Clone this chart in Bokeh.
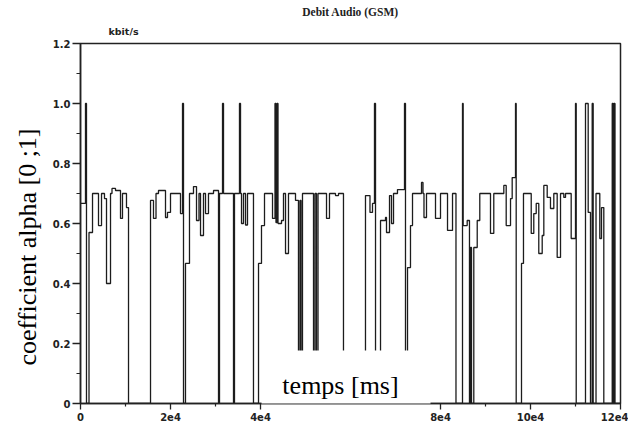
import math
from bokeh.plotting import figure
from bokeh.models import FixedTicker, Label, BoxAnnotation, PrintfTickFormatter, Title
from bokeh.embed import file_html
from bokeh.resources import INLINE

# time [ms] at which each step starts, and the value held from there
t_ms = [0, 1110, 1330, 1890, 2670, 4000, 4670, 5330, 5780, 6670, 7000, 7780, 8890, 9330,
        10220, 10670, 15560, 16220, 16780, 17330, 18890, 19330, 20000, 22220, 22670, 22890,
        23330, 24220, 25110, 25780, 26330, 26670, 27330, 27780, 28440, 29560, 30670, 30890,
        31560, 31780, 34000, 34220, 35330, 35560, 35780, 36220, 36670, 37110, 38440, 39560,
        40220, 40890, 42670, 43220, 43440, 43670, 43890, 44670, 45110, 45560, 46220, 47780,
        48440, 48780, 49000, 49330, 51780, 52110, 52440, 52780, 54670, 55330, 56670, 57330,
        58440, 63330, 64330, 64890, 65330, 65560, 66670, 67780, 68000, 68670, 69110, 69560,
        70440, 72000, 72220, 72670, 73330, 73780, 75780, 76110, 76330, 76890, 78890, 80000,
        81560, 82670, 83440, 84890, 85040, 85930, 86440, 86670, 86890, 87400, 88160, 88730,
        91110, 91840, 94070, 94600, 95560, 95930, 96670, 96820, 98000, 98440, 100160, 100730,
        101270, 101840, 102600, 102960, 103710, 104440, 105180, 105930, 106670, 107400, 107780,
        109040, 110000, 110160, 112220, 112820, 113330, 113710, 113930, 114560, 115400, 115780,
        116290, 118160, 118330, 118510, 118780, 120000]
alpha = [0.667, 1.0, 0, 0.57, 0.70, 0.593, 0.70, 0.683, 0.40, 0.70, 0.717, 0.71, 0.617, 0.70,
         0.653, 0, 0.677, 0.617, 0.70, 0.71, 0.62, 0.637, 0.70, 0.633, 1.0, 0,
         0.467, 0.70, 0.723, 0.61, 0.70, 0.56, 0.70, 0.633, 0.70, 0.71, 0, 0.70,
         1.0, 0.70, 0, 0.70, 1.0, 0.70, 0.60, 0.70, 0.595, 0.70, 0, 0.467,
         0.593, 0.70, 0.617, 1.0, 0.603, 1.0, 0.60, 0.61, 0.70, 0.50, 0.70, 0.677,
         0, 0.677, 0, 0.70, 0, 0.70, 0, 0.70, 0.617, 0.70, 0.693, 0.70,
         0, 0.693, 0.637, 0.667, 1.0, 0, 0.61, 0.62, 0.57, 0.693, 0.60, 0.70,
         0.713, 1.0, 0, 0.453, 0.593, 0.70, 0.737, 0.70, 0.62, 0.70, 0.617, 0.70,
         0.577, 0.70, 0, 1.0, 0.593, 0.61, 0, 0.52, 0, 0.52, 0.61, 0.70,
         0.567, 0.70, 0.727, 0.593, 0.683, 0.753, 1.0, 0, 0.467, 0.70, 0.567, 0.633,
         0.667, 0.50, 0.56, 0.727, 0.687, 0.65, 0.70, 0.487, 0.70, 0.687, 0.70,
         0.55, 1.0, 0, 1.0, 0.637, 0, 1.0, 0, 0.70, 0.55, 0.653,
         0, 1.0, 0, 1.0, 0, 0]

# 6e4 and the minor ticks around it are hidden under the white label box
x_ticks = [0, 20000, 40000, 80000, 100000, 120000]
x_tick_labels = ["0", "2e4", "4e4", "8e4", "10e4", "12e4"]
x_minor = [10000, 30000, 90000, 110000]
y_ticks = [0, 0.2, 0.4, 0.6, 0.8, 1.0, 1.2]
y_minor = [0.1, 0.3, 0.5, 0.7, 0.9, 1.1]

title_text = "Debit Audio (GSM)"
unit_text = "kbit/s"
x_label = "temps [ms]"
y_label = "coefficient alpha [0 ;1]"

ink = "#222222"

p = figure(frame_width=540, frame_height=360, x_range=(0, 120000), y_range=(0, 1.2),
           output_backend="svg", toolbar_location=None, title=title_text,
           min_border_left=80, min_border_right=8, min_border_top=43, min_border_bottom=22)
p.background_fill_color = "white"
p.border_fill_color = "white"
p.outline_line_color = ink
p.outline_line_width = 1.5
p.xgrid.visible = False
p.ygrid.visible = False

p.title.align = "center"
p.title.offset = -2
p.title.text_font = "Liberation Serif"
p.title.text_font_style = "bold"
p.title.text_font_size = "11.5px"
p.title.text_color = ink
p.title.standoff = 0

p.step(t_ms, alpha, mode="after", line_color="#1c1c1c", line_width=1.3)

p.xaxis.ticker = FixedTicker(ticks=x_ticks, minor_ticks=x_minor)
p.xaxis.major_label_overrides = {t: s for t, s in zip(x_ticks, x_tick_labels)}
p.yaxis.ticker = FixedTicker(ticks=y_ticks, minor_ticks=y_minor)
p.yaxis.formatter = PrintfTickFormatter(format="%.1f")
p.yaxis.major_label_overrides = {0: "0"}

for ax in (p.xaxis, p.yaxis):
    ax.axis_line_color = ink
    ax.axis_line_width = 1.5
    ax.major_tick_line_color = ink
    ax.minor_tick_line_color = ink
    ax.major_tick_line_width = 1.3
    ax.minor_tick_line_width = 1.2
    ax.major_tick_in = 0
    ax.minor_tick_in = 0
    ax.major_label_text_font = "DejaVu Sans"
    ax.major_label_text_font_style = "bold"
    ax.major_label_text_font_size = "10px"
    ax.major_label_text_color = ink
p.xaxis.major_tick_out = 6
p.xaxis.minor_tick_out = 3
p.xaxis.major_label_standoff = 3
p.yaxis.major_tick_out = 8
p.yaxis.minor_tick_out = 4
p.yaxis.major_label_standoff = 2

p.add_layout(Title(text=unit_text, align="left", offset=28, standoff=13,
                   text_font="DejaVu Sans", text_font_style="bold", text_font_size="9.5px",
                   text_color=ink), "above")

p.add_layout(Title(text=y_label, align="left", offset=38, standoff=16,
                   text_font="Liberation Serif", text_font_style="normal",
                   text_font_size="26px", text_color="black"), "left")

p.add_layout(BoxAnnotation(left=181, right=350, top=53, bottom=-30,
                           left_units="screen", right_units="screen",
                           top_units="screen", bottom_units="screen",
                           fill_color="white", fill_alpha=1.0, line_alpha=0, level="overlay"))
p.add_layout(Label(x=260, y=18, x_units="screen", y_units="screen", text=x_label,
                   text_font="Liberation Serif", text_font_size="26px",
                   text_align="center", text_baseline="alphabetic", text_color="black",
                   level="overlay"))

open("out.html", "w").write(file_html(p, INLINE))
